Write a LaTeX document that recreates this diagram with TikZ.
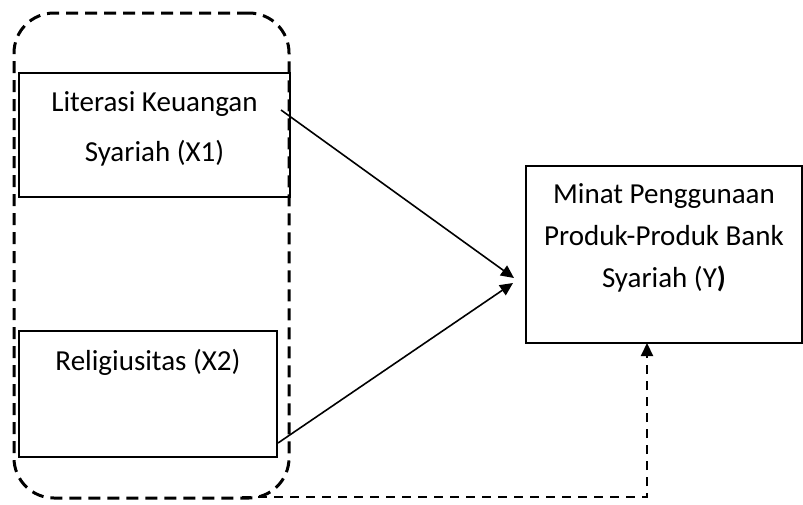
\documentclass[tikz,border=0pt]{standalone}
\usepackage{fontspec}
\setmainfont{Carlito}
\usetikzlibrary{arrows.meta}

\begin{document}
\begin{tikzpicture}[x=1pt,y=-1pt,>={Triangle[length=13pt,width=12pt]}, line width=1.6pt]
                \tikzstyle{block} = [draw, rectangle, line width=2pt, inner sep=0pt]
                \tikzstyle{lbl} = [align=center, anchor=base, inner sep=0pt, font=\fontsize{29}{50}\selectfont]
                \tikzstyle{dashlink} = [line width=2.2pt, dash pattern=on 9pt off 7pt]
                \useasboundingbox (0,0) rectangle (803,504);

                % Group (X1 and X2)
                \node[draw, rectangle, line width=3pt, dash pattern=on 12pt off 7pt, rounded corners=40pt, minimum width=275pt, minimum height=485pt] (group) at (151.5,255.5) {};

                % Independent variables
                \node[block, minimum width=271pt, minimum height=124pt] (x1) at (154.5,135) {};
                \node[lbl] (x1text) at (154.5,161) {Literasi Keuangan\\Syariah (X1)};

                \node[block, minimum width=258pt, minimum height=126pt] (x2) at (148,394) {};
                \node[lbl] (x2text) at (148,370) {Religiusitas (X2)};

                % Dependent variable
                \node[block, minimum width=276pt, minimum height=177pt] (y) at (664,254.5) {};
                \node[lbl, font=\fontsize{29}{42}\selectfont] (ytext) at (664,287) {Minat Penggunaan\\Produk-Produk Bank\\Syariah (Y\textbf{)}};

                % Connector ends
                \coordinate (x1out) at (281,110);
                \coordinate (x2out) at (278,443);
                \coordinate (tip1) at (514,278);
                \coordinate (tip2) at (513,283);
                \coordinate (groupout) at (242,497);
                \coordinate (yin) at (647,343);

                % Arrows
                \draw[->] (x1out) -- (tip1);
                \draw[->] (x2out) -- (tip2);
                \draw[dashlink, ->] (groupout) -| (yin);
            \end{tikzpicture}
\end{document}
